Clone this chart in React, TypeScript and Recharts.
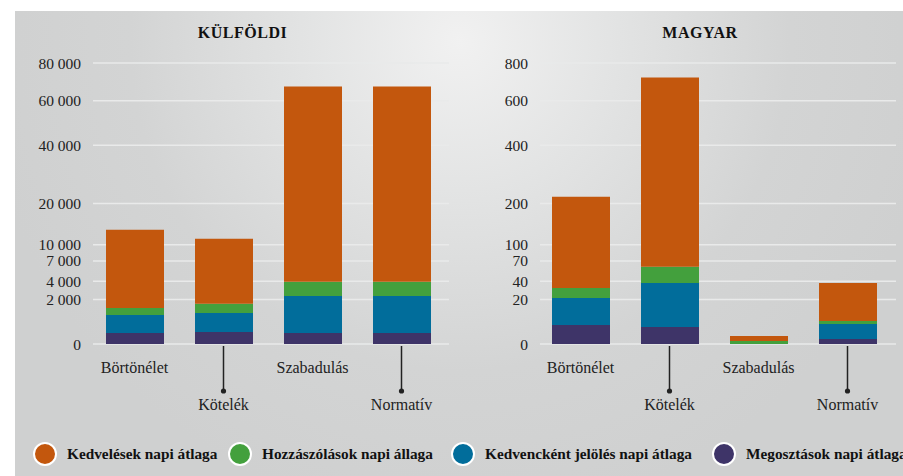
import { Bar, BarChart, CartesianGrid, XAxis, YAxis } from 'recharts';

const categories = ['Börtönélet', 'Kötelék', 'Szabadulás', 'Normatív'];

// KÜLFÖLDI (foreign) daily averages
const kulfoldiKedveles = [11900, 9560, 63250, 63250];
const kulfoldiHozzaszolas = [460, 670, 1570, 1570];
const kulfoldiKedvenc = [730, 830, 2220, 2220];
const kulfoldiMegosztas = [125, 145, 125, 125];

// MAGYAR (hungarian) daily averages
const magyarKedveles = [188, 659, 0.56, 32.4];
const magyarHozzaszolas = [10.4, 22.5, 0.09, 1.3];
const magyarKedvenc = [17.8, 34.9, 0, 3.8];
const magyarMegosztas = [3.7, 2.9, 0, 0.25];

const kulfoldiTicks = [0, 2000, 4000, 7000, 10000, 20000, 40000, 60000, 80000];
const magyarTicks = [0, 20, 40, 70, 100, 200, 400, 600, 800];

const series = [
  { key: 'megosztas', name: 'Megosztások napi átlaga', color: '#3E3468' },
  { key: 'kedvenc', name: 'Kedvencként jelölés napi átlaga', color: '#016D9B' },
  { key: 'hozzaszolas', name: 'Hozzászólások napi állaga', color: '#43A03D' },
  { key: 'kedveles', name: 'Kedvelések napi átlaga', color: '#C3570D' },
];

const legendOrder = ['kedveles', 'hozzaszolas', 'kedvenc', 'megosztas'];
const legendLeft = [33, 228, 451, 712];

const kulfoldiData = categories.map((c, i) => ({
  name: c,
  kedveles: kulfoldiKedveles[i],
  hozzaszolas: kulfoldiHozzaszolas[i],
  kedvenc: kulfoldiKedvenc[i],
  megosztas: kulfoldiMegosztas[i],
}));

const magyarData = categories.map((c, i) => ({
  name: c,
  kedveles: magyarKedveles[i],
  hozzaszolas: magyarHozzaszolas[i],
  kedvenc: magyarKedvenc[i],
  megosztas: magyarMegosztas[i],
}));

const FONT = '"Liberation Serif", "DejaVu Serif", serif';

const fmt = (v: number) => String(v).replace(/\B(?=(\d{3})+(?!\d))/g, ' ');

const CategoryTick = (props: any) => {
  const { x, y, payload, index } = props;
  const low = index % 2 === 1;
  return (
    <g>
      {low && <line x1={x} x2={x} y1={y + 2} y2={y + 47} stroke="#222" strokeWidth={1.5} />}
      {low && <circle cx={x} cy={y + 47} r={2.6} fill="#222" />}
      <text x={x} y={low ? y + 66 : y + 29} textAnchor="middle" fontFamily={FONT} fontSize={16} fill="#222">
        {payload.value}
      </text>
    </g>
  );
};

function Panel({ data, ticks, max, width, right, shift }: any) {
  return (
    <BarChart
      width={width}
      height={430}
      data={data}
      margin={{ top: 63, right, bottom: 0, left: 0 }}
      barSize={58}
    >
      <CartesianGrid vertical={false} stroke="#e9eaea" strokeWidth={1.5} />
      <XAxis
        dataKey="name"
        axisLine={false}
        tickLine={false}
        tickSize={0}
        tickMargin={0}
        interval={0}
        height={86}
        padding={{ left: -shift, right: shift }}
        tick={<CategoryTick />}
      />
      <YAxis
        scale="sqrt"
        domain={[0, max]}
        ticks={ticks}
        interval={0}
        width={93}
        axisLine={false}
        tickLine={false}
        tickMargin={6}
        tickFormatter={fmt}
        tick={{ fontFamily: FONT, fontSize: 15.5, fill: '#222' }}
      />
      {series.map((s) => (
        <Bar key={s.key} dataKey={s.key} name={s.name} stackId="a" fill={s.color} isAnimationActive={false} />
      ))}
    </BarChart>
  );
}

export default function App() {
  return (
    <div style={{ position: 'fixed', left: 0, top: 0, width: 903, height: 476, background: '#fff', overflow: 'hidden' }}>
      <div
        style={{
          position: 'absolute',
          left: 15,
          top: 11,
          width: 900,
          height: 470,
          background: 'radial-gradient(circle at 445px 30px, #f1f1f1 0%, #e2e3e3 160px, #d3d4d4 330px, #cfd0d0 480px)',
        }}
      />
      <div style={{ position: 'absolute', left: 0, top: 0 }}>
        <Panel data={kulfoldiData} ticks={kulfoldiTicks} max={80000} width={470} right={21} shift={3} />
      </div>
      <div style={{ position: 'absolute', left: 447, top: 0 }}>
        <Panel data={magyarData} ticks={magyarTicks} max={800} width={456} right={7} shift={4} />
      </div>
      <div style={{ position: 'absolute', left: 15, width: 455, top: 24, textAlign: 'center', fontFamily: FONT, fontWeight: 'bold', fontSize: 16, color: '#111', letterSpacing: 0.5 }}>
        KÜLFÖLDI
      </div>
      <div style={{ position: 'absolute', left: 470, width: 460, top: 24, textAlign: 'center', fontFamily: FONT, fontWeight: 'bold', fontSize: 16, color: '#111', letterSpacing: 0.5 }}>
        MAGYAR
      </div>
      {legendOrder.map((k, i) => {
        const s = series.find((x) => x.key === k)!;
        return (
          <div key={k}>
            <span
              style={{
                position: 'absolute',
                left: legendLeft[i],
                top: 442,
                width: 20,
                height: 20,
                borderRadius: '50%',
                background: s.color,
                border: '2px solid #fff',
              }}
            />
            <span
              style={{
                position: 'absolute',
                left: legendLeft[i] + 34,
                top: 444,
                lineHeight: '20px',
                whiteSpace: 'nowrap',
                fontFamily: FONT,
                fontWeight: 'bold',
                fontSize: 15.3,
                color: '#111',
              }}
            >
              {s.name}
            </span>
          </div>
        );
      })}
    </div>
  );
}
